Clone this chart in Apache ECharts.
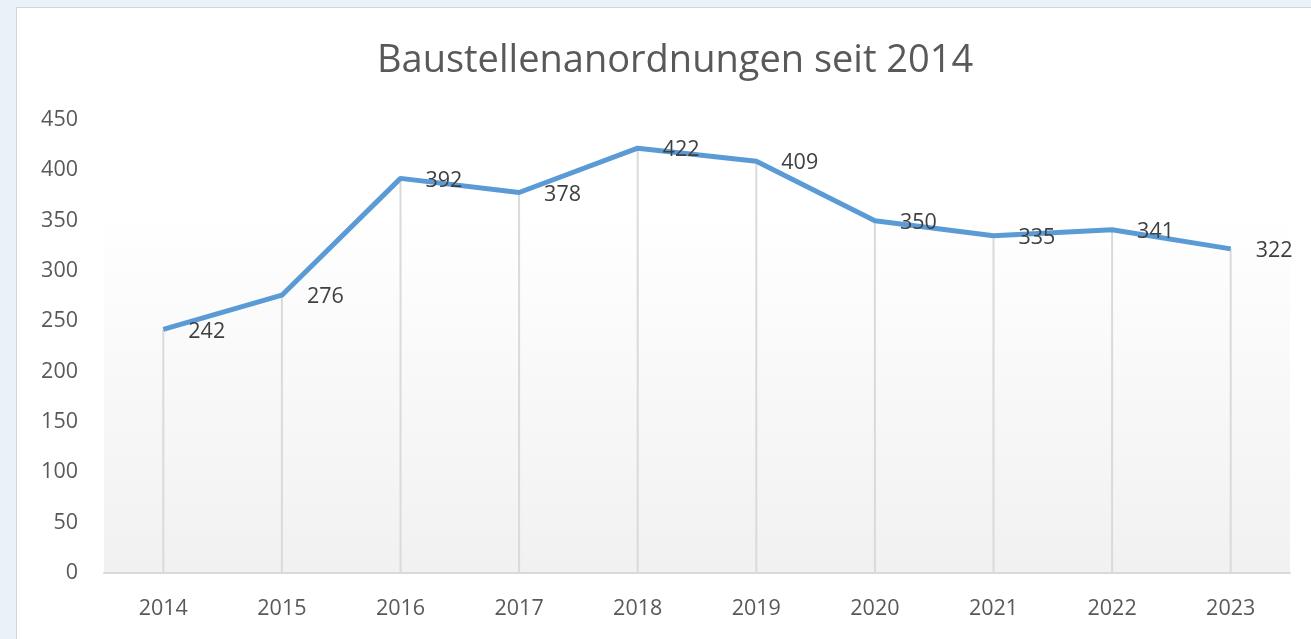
<!DOCTYPE html>
<html lang="de">
<head>
    <meta charset="UTF-8">
    <title>Baustellenanordnungen seit 2014</title>
    <script src="https://cdn.jsdelivr.net/npm/echarts@6/dist/echarts.min.js"></script>
    <style>
        html, body { margin: 0; padding: 0; background: #EAF1F9; }
        #chart { width: 1311px; height: 639px; }
    </style>
</head>
<body>
<div id="chart"></div>
<script type="text/javascript">
    // Jahre und Anzahl der Anordnungen
    let years = ['2014', '2015', '2016', '2017', '2018', '2019', '2020', '2021', '2022', '2023'];
    let counts = [242, 276, 392, 378, 422, 409, 350, 335, 341, 322];
    let yTicks = [0, 450, 50];  // min, max, interval

    let myChart = echarts.init(document.getElementById('chart'));
    let font = 'Open Sans, Noto Sans, sans-serif';

    let option = {
        backgroundColor: '#EAF1F9',
        animation: false,
        graphic: [{
            type: 'rect',
            z: -10,
            shape: { x: 16.5, y: 7.5, width: 1310, height: 650 },
            style: { fill: '#fff', stroke: '#D4D4D4', lineWidth: 1 }
        }],
        title: {
            text: 'Baustellenanordnungen seit 2014',
            left: 372,
            top: 37,
            textStyle: { fontFamily: font, fontSize: 38, fontWeight: 'normal', color: '#595959' }
        },
        grid: {
            left: 104, right: 21, top: 120, bottom: 66,
            show: true,
            borderWidth: 0,
            backgroundColor: {
                type: 'linear', x: 0, y: 0, x2: 0, y2: 1,
                colorStops: [
                    { offset: 0, color: '#ffffff' },
                    { offset: 0.2, color: '#ffffff' },
                    { offset: 1, color: '#F1F1F1' }
                ]
            }
        },
        xAxis: {
            type: 'category',
            data: years,
            boundaryGap: true,
            axisLine: { lineStyle: { color: '#D9D9D9', width: 2 } },
            axisTick: { show: false },
            axisLabel: { margin: 25, fontFamily: font, fontSize: 21.5, color: '#595959' },
            splitLine: { show: false }
        },
        yAxis: {
            type: 'value',
            min: yTicks[0], max: yTicks[1], interval: yTicks[2],
            axisLine: { show: false },
            axisTick: { show: false },
            splitLine: { show: false },
            axisLabel: { margin: 26, fontFamily: font, fontSize: 21.5, color: '#595959' }
        },
        series: [
            {
                // Lotlinien vom Punkt zur Achse
                type: 'bar',
                data: counts,
                barWidth: 2,
                silent: true,
                itemStyle: { color: '#DADADA' },
                z: 1
            },
            {
                type: 'line',
                data: counts,
                clip: false,
                symbol: 'circle',
                symbolSize: 0,
                showSymbol: true,
                lineStyle: { color: '#5B9BD5', width: 5 },
                itemStyle: { color: '#5B9BD5' },
                label: {
                    show: true,
                    position: [25, 2],
                    align: 'left',
                    verticalAlign: 'middle',
                    fontFamily: font,
                    fontSize: 21.5,
                    color: '#404040'
                },
                z: 3
            }
        ]
    };
    myChart.setOption(option);
</script>
</body>
</html>
